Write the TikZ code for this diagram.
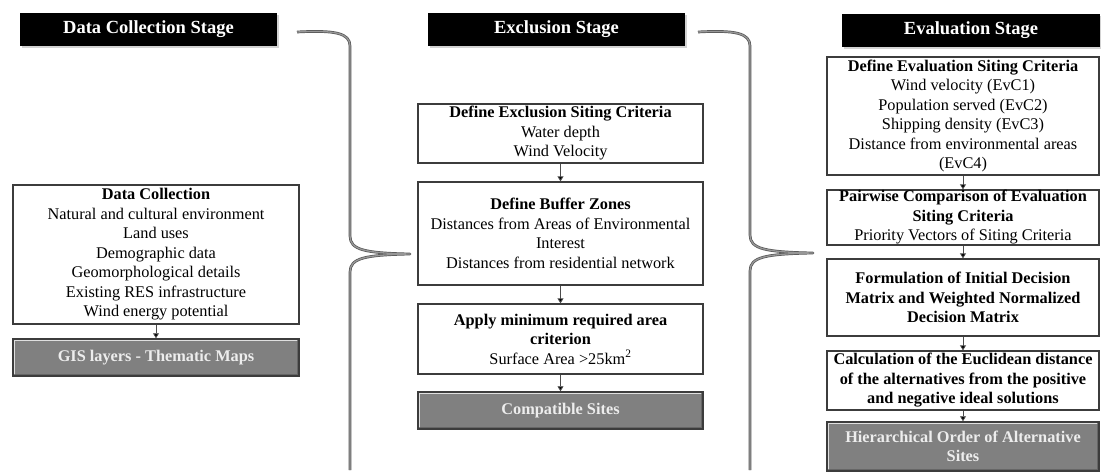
\documentclass[tikz,border=0pt]{standalone}
\usepackage{fontspec}
\setmainfont{Liberation Serif}
\usetikzlibrary{arrows.meta,shadows}
\definecolor{brd}{HTML}{3C3C3C}
\definecolor{grayfill}{HTML}{808080}
\definecolor{graytext}{HTML}{EDEDED}
\definecolor{bracecol}{HTML}{6A6A6A}
\begin{document}
\begin{tikzpicture}[x=1pt,y=-1pt,
  font=\fontsize{16.3}{19.5}\selectfont,
  box/.style={draw=brd, line width=1.3pt, fill=white, align=center, inner sep=0pt},
  stagehead/.style={fill=black, text=white, font=\fontsize{18.5}{21}\selectfont\bfseries,
     minimum height=33pt, inner sep=0pt,
     drop shadow={opacity=0.35, shadow xshift=1.5pt, shadow yshift=-2pt}},
  result/.style={draw=brd, line width=1.5pt, fill=grayfill, text=graytext, align=center,
     font=\fontsize{16.3}{19.5}\selectfont\bfseries, inner sep=0pt},
  arr/.style={draw=gray!60!black, line width=0.8pt, -{Triangle[width=6pt,length=5pt,fill=black]}},
  bracepath/.style={draw=bracecol!80!black, line width=0.7pt, double=bracecol!70, double distance=1.3pt, line join=round}
]
\useasboundingbox (0,0) rectangle (1101,474);

% stage headers
\node[stagehead, minimum width=257pt] (h1) at (148.5,29.5) {Data Collection Stage};
\node[stagehead, minimum width=257pt] (h2) at (556.5,29.5) {Exclusion Stage};
\node[stagehead, minimum width=258pt] (h3) at (971,30.5) {Evaluation Stage};

% data collection column
\node[box, minimum width=286pt, minimum height=139pt] (dc) at (156,254.5)
  {\textbf{Data Collection}\\Natural and cultural environment\\Land uses\\Demographic data\\Geomorphological details\\Existing RES infrastructure\\Wind energy potential};
\node[result, minimum width=286pt, minimum height=37pt] (gis) at (156,357.5) {GIS layers - Thematic Maps};

% exclusion column
\node[box, minimum width=285pt, minimum height=59pt] (ex1) at (560.5,133.5)
  {\textbf{Define Exclusion Siting Criteria}\\Water depth\\Wind Velocity};
\node[box, minimum width=285pt, minimum height=103pt] (ex2) at (560.5,233.5)
  {\textbf{Define Buffer Zones}\\Distances from Areas of Environmental\\Interest\\Distances from residential network};
\node[box, minimum width=285pt, minimum height=70pt] (ex3) at (560.5,339)
  {\textbf{Apply minimum required area}\\\textbf{criterion}\\Surface Area >25km\textsuperscript{2}};
\node[result, minimum width=285pt, minimum height=37pt] (cs) at (560.5,410.5) {Compatible Sites};

% evaluation column
\node[box, minimum width=272pt, minimum height=118pt] (ev1) at (963,116)
  {\textbf{Define Evaluation Siting Criteria}\\Wind velocity (EvC1)\\Population served (EvC2)\\Shipping density (EvC3)\\Distance from environmental areas\\(EvC4)};
\node[box, minimum width=272pt, minimum height=55pt] (ev2) at (963,217.5)
  {\textbf{Pairwise Comparison of Evaluation}\\\textbf{Siting Criteria}\\Priority Vectors of Siting Criteria};
\node[box, minimum width=272pt, minimum height=77pt] (ev3) at (963,297.5)
  {\textbf{Formulation of Initial Decision}\\\textbf{Matrix and Weighted Normalized}\\\textbf{Decision Matrix}};
\node[box, minimum width=272pt, minimum height=59pt] (ev4) at (963,380.5)
  {\textbf{Calculation of the Euclidean distance}\\\textbf{of the alternatives from the positive}\\\textbf{and negative ideal solutions}};
\node[result, minimum width=272pt, minimum height=49pt] (ev5) at (963,446.5)
  {Hierarchical Order of Alternative\\Sites};

% bevel highlights on result boxes
\foreach \n in {gis,cs,ev5}{
  \draw[white!75!gray, line width=1pt] ([xshift=2.5pt,yshift=2.5pt]\n.south west) -- ([xshift=2.5pt,yshift=-2.5pt]\n.north west) -- ([xshift=-2.5pt,yshift=-2.5pt]\n.north east);
  \draw[black!60, line width=1pt] ([xshift=-2.5pt,yshift=-2.5pt]\n.north east) -- ([xshift=-2.5pt,yshift=2.5pt]\n.south east) -- ([xshift=2.5pt,yshift=2.5pt]\n.south west);
}

% arrows
\draw[arr] (dc.south) -- (gis.north);
\draw[arr] (ex1.south) -- (ex2.north);
\draw[arr] (ex2.south) -- (ex3.north);
\draw[arr] (ex3.south) -- (cs.north);
\draw[arr] (ev1.south) -- (ev2.north);
\draw[arr] (ev2.south) -- (ev3.north);
\draw[arr] (ev3.south) -- (ev4.north);
\draw[arr] (ev4.south) -- (ev5.north);

% braces
\coordinate (b1s) at (297,32);
\coordinate (b1t) at (410,254);
\coordinate (b1e) at (350,470);
\draw[bracepath] (b1s) .. controls (335,30) and (350,33) .. (350,46) -- (350,236)
  .. controls (350,250) and (365,253) .. (b1t)
  .. controls (365,255) and (350,258) .. (350,272) -- (b1e);
\coordinate (b2s) at (698,32);
\coordinate (b2t) at (813,253);
\coordinate (b2e) at (750,470);
\draw[bracepath] (b2s) .. controls (735,30) and (750,33) .. (750,46) -- (750,235)
  .. controls (750,249) and (765,252) .. (b2t)
  .. controls (765,254) and (750,257) .. (750,271) -- (b2e);
\end{tikzpicture}
\end{document}
